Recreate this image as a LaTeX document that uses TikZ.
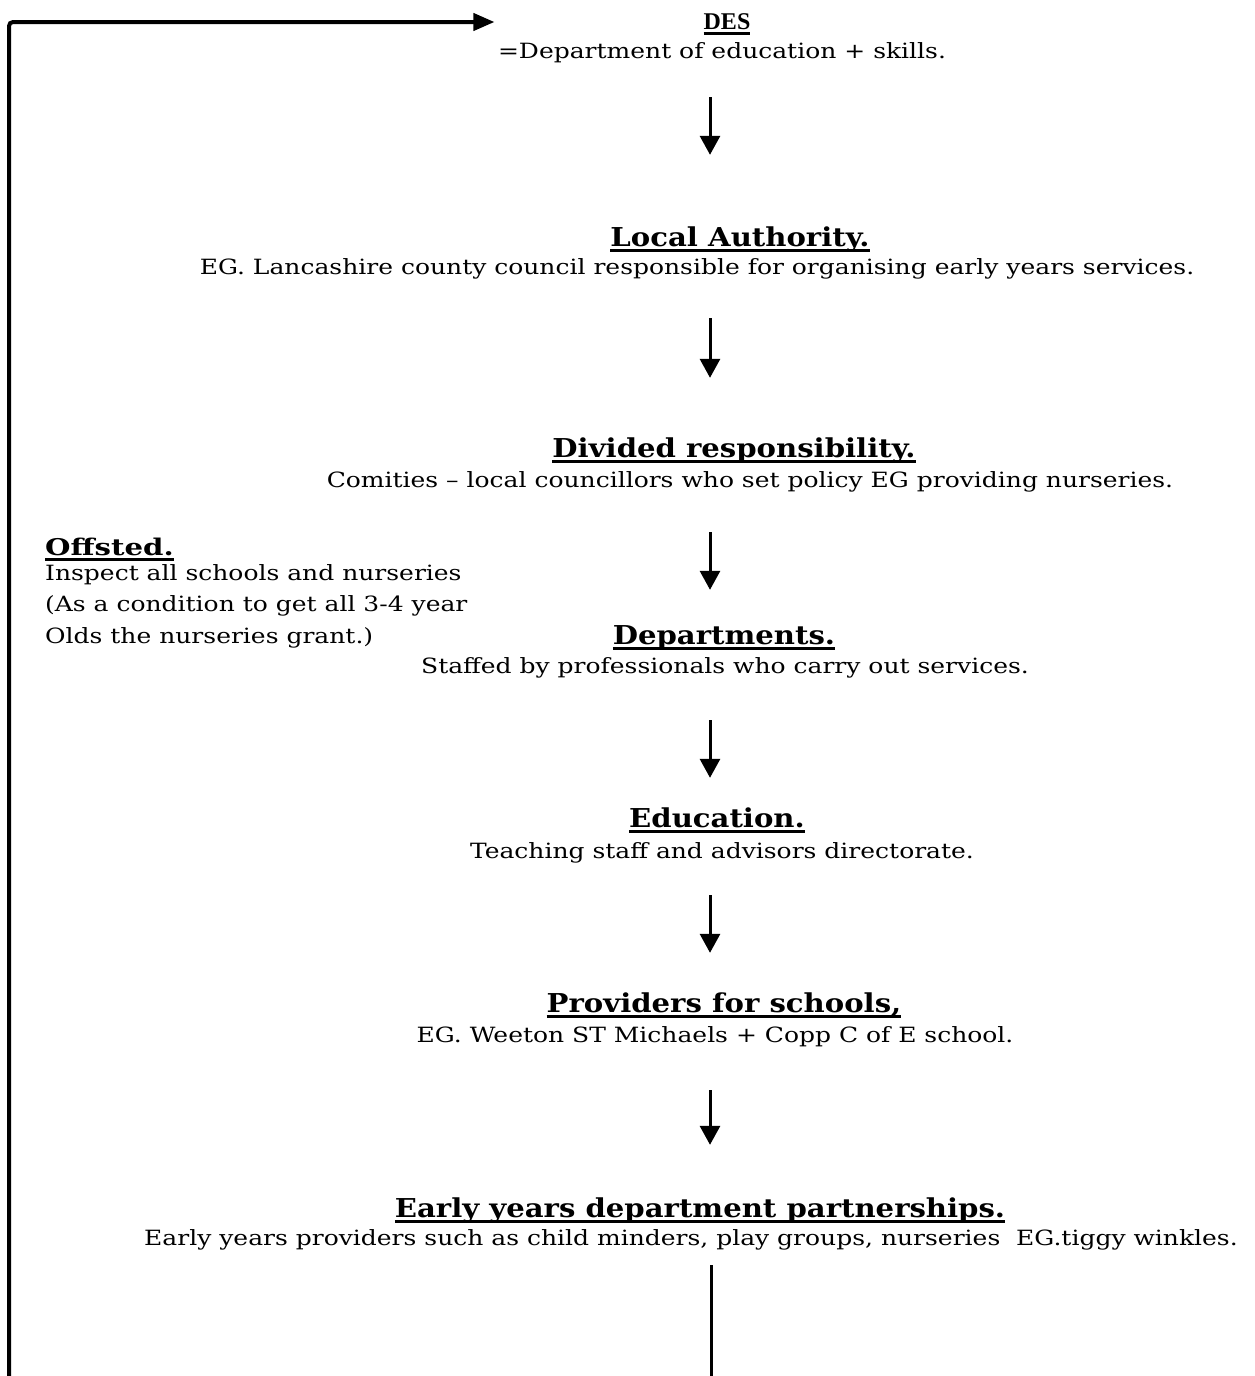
\documentclass[tikz,border=0pt]{standalone}
\usepackage{fontspec}
\setmainfont{DejaVu Serif}[FakeStretch=1.19]
\newfontfamily\headfont{DejaVu Serif}[FakeStretch=1.12]
\newfontfamily\offfont{DejaVu Serif}[FakeStretch=1.27]
\newfontfamily\desfont{Liberation Serif}
\usetikzlibrary{arrows.meta,positioning}

% thick rule under a heading
\newcommand{\headul}[1]{\setbox0=\hbox{#1}\dp0=0pt\vtop{\copy0\kern3pt\hrule height 3pt}}

\begin{document}
\begin{tikzpicture}[
  x=1pt,y=-1pt,
  head/.style={inner sep=0pt,anchor=base,font=\fontsize{26}{30}\headfont\bfseries,text height=20pt,text depth=6pt},
  body/.style={inner sep=0pt,anchor=base,font=\fontsize{21}{25}\selectfont,text height=15pt,text depth=5pt},
  flow/.style={-{Triangle[length=19pt,width=20pt]},line width=3pt},
  back/.style={-{Triangle[length=21pt,width=17pt]},line width=4pt}
]
  \useasboundingbox (0,0) rectangle (1255,1376);
  \coordinate (spine) at (710,0);

  \node[head,font=\fontsize{24}{28}\desfont\bfseries] (desH) at (727,29) {\headul{DES}};
  \node[body] (desB) at (722,58) {=Department of education + skills.};

  \node[head] (laH) at (740,246) {\headul{Local Authority.}};
  \node[body] (laB) at (697,274) {EG. Lancashire county council responsible for organising early years services.};

  \node[head] (drH) at (734,457) {\headul{Divided responsibility.}};
  \node[body] (drB) at (750,487) {Comities -- local councillors who set policy EG providing nurseries.};

  \node[head,font=\fontsize{23}{27}\offfont\bfseries,anchor=base west] (offH) at (45,555) {\headul{Offsted.}};
  \node[body,anchor=north west,align=left,font=\fontsize{21}{31.5}\selectfont,text height=,text depth=] (offB) at (45,564)
    {Inspect all schools and nurseries\\(As a condition to get all 3-4 year\\Olds the nurseries grant.)};

  \node[head] (deptH) at (724,644) {\headul{Departments.}};
  \node[body] (deptB) at (725,673) {Staffed by professionals who carry out services.};

  \node[head] (eduH) at (717,827) {\headul{Education.}};
  \node[body] (eduB) at (722,858) {Teaching staff and advisors directorate.};

  \node[head] (provH) at (724,1012) {\headul{Providers for schools,}};
  \node[body] (provB) at (715,1042) {EG. Weeton ST Michaels + Copp C of E school.};

  \node[head] (earlyH) at (700,1217) {\headul{Early years department partnerships.}};
  \node[body] (earlyB) at (691,1245) {Early years providers such as child minders, play groups, nurseries~ EG.tiggy winkles.};

  \draw[flow,shorten <=34pt,shorten >=71pt] (desB.south -| spine) -- (laH.north -| spine);
  \draw[flow,shorten <=39pt,shorten >=59pt] (laB.south -| spine) -- (drH.north -| spine);
  \draw[flow,shorten <=40pt,shorten >=34pt] (drB.south -| spine) -- (deptH.north -| spine);
  \draw[flow,shorten <=42pt,shorten >=29pt] (deptB.south -| spine) -- (eduH.north -| spine);
  \draw[flow,shorten <=32pt,shorten >=39pt] (eduB.south -| spine) -- (provH.north -| spine);
  \draw[flow,shorten <=43pt,shorten >=52pt] (provB.south -| spine) -- (earlyH.north -| spine);

  % loop back to the top
  \coordinate (baseMid) at (711,1376);
  \coordinate (baseLeft) at (9,1376);
  \draw[line width=3pt,shorten <=15pt] (earlyB.south -| baseMid) -- (baseMid);
  \draw[back,rounded corners=4pt,shorten >=209pt] (baseLeft) |- (desH.west);
\end{tikzpicture}
\end{document}
